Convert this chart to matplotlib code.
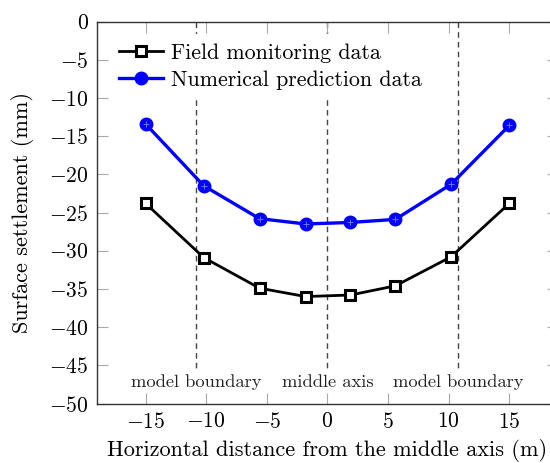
import matplotlib
matplotlib.use("Agg")
import matplotlib.pyplot as plt
import numpy as np

plt.rcParams['font.family'] = 'serif'
plt.rcParams['font.serif'] = ['cmr10', 'DejaVu Serif']
plt.rcParams['mathtext.fontset'] = 'cm'
plt.rcParams['axes.formatter.use_mathtext'] = True

# data
dist = [-15, -10.2, -5.6, -1.8, 1.9, 5.6, 10.2, 15]
field = [-23.8, -30.9, -34.9, -36.0, -35.8, -34.6, -30.8, -23.8]
numerical = [-13.4, -21.5, -25.8, -26.5, -26.3, -25.9, -21.3, -13.6]

marks_x = [-10.8, 0, 10.8]
marks_text = ['model boundary', 'middle axis', 'model boundary']

fig = plt.figure(figsize=(5.5, 4.63), dpi=100)
ax = fig.add_axes([0.1764, 0.1285, 0.8378, 0.825])

for xv, t in zip(marks_x, marks_text):
  ax.plot([xv, xv], [0, -45.3], color='#444444', lw=1.0, ls=(0, (4, 3)), zorder=1)
  ax.text(xv, -47.2, t, ha='center', va='center', fontsize=13.3, color='#222222')

ax.plot(dist, field, color='black', lw=2.0, marker='s', ms=7.5, mfc='white',
  mec='black', mew=2.2, label='Field monitoring data', zorder=3)
ax.plot(dist, numerical, color='#0000ff', lw=2.4, marker='o', ms=9, mfc='#0000ff',
  mec='#0000ff', mew=1.0, label='Numerical prediction data', zorder=4)
ax.plot(dist, numerical, ls='none', marker='+', ms=5, mec='#6f6fff', mew=0.7, zorder=5)

ax.set_xlim(-19, 19)
ax.set_ylim(-50, 0)
ax.set_xticks(np.arange(-15, 16, 5))
ax.set_yticks(np.arange(-50, 1, 5))
ax.tick_params(direction='in', length=8, width=0.8, color='#aaaaaa',
  top=True, right=True, labelsize=15.5, pad=6)
for s in ax.spines.values():
  s.set_color('#333333')
  s.set_linewidth(1.0)

ax.set_xlabel('Horizontal distance from the middle axis (m)', fontsize=16, labelpad=5)
ax.set_ylabel('Surface settlement (mm)', fontsize=16, labelpad=11)

leg = ax.legend(loc='upper left', bbox_to_anchor=(0.005, 0.995), frameon=True,
  fontsize=15.8, handlelength=2.0, handletextpad=0.35, borderaxespad=0.5,
  labelspacing=0.35, framealpha=1.0)
leg.get_frame().set_edgecolor('none')
leg.set_zorder(6)

fig.savefig('out.png', dpi=100)
